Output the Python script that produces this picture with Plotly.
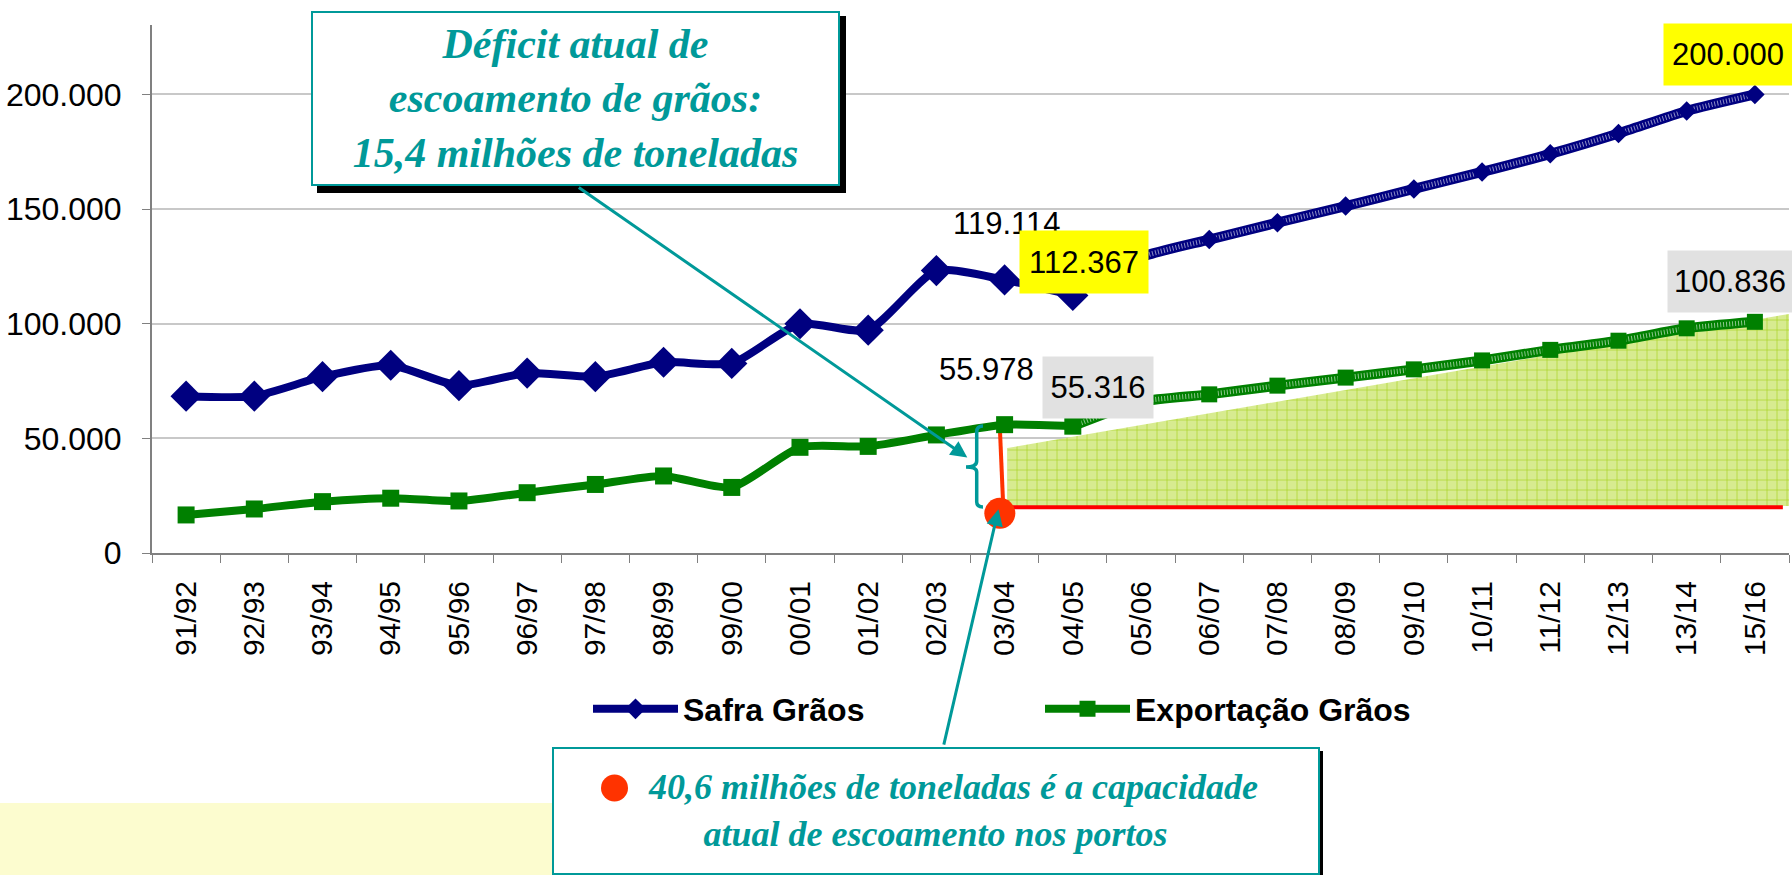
import plotly.graph_objects as go

# ---------------- data ----------------
categories = ["91/92", "92/93", "93/94", "94/95", "95/96", "96/97", "97/98", "98/99",
              "99/00", "00/01", "01/02", "02/03", "03/04", "04/05", "05/06", "06/07",
              "07/08", "08/09", "09/10", "10/11", "11/12", "12/13", "13/14", "15/16"]

safra_hist = [68400, 68400, 76900, 81900, 73000, 78500, 76900, 83200, 82700,
              100000, 97200, 123200, 119114, 112367]
export_hist = [16600, 19200, 22400, 23900, 22700, 26300, 29900, 33600, 28600,
               46100, 46500, 51500, 55978, 55316]
safra_proj = [112367, 129000, 136700, 144100, 151300, 158800, 166200, 174100,
              183000, 192800, 200000]
export_proj = [55316, 66000, 69200, 73000, 76500, 80100, 84000, 88600,
               92600, 98000, 100836]

# deficit zone and port capacity line
gap_x = [12.04, 23.5]
gap_top = [45800, 104300]
gap_bottom = 20500
capacity_x = [11.98, 23.41]
capacity_y = 20000
deficit_x = [11.93, 11.98]
deficit_y = [54800, 20200]
bullet_x = [11.93]
bullet_y = [17300]

ytick_vals = [0, 50000, 100000, 150000, 200000]
ytick_text = ["0", "50.000", "100.000", "150.000", "200.000"]

idx = list(range(len(categories)))
n_hist = len(safra_hist)
proj_idx = idx[n_hist - 1:]

NAVY = "#000080"
GREEN = "#008000"
TEAL = "#009999"
ORANGE_RED = "#FF3300"

fig = go.Figure()

# deficit zone
fig.add_trace(go.Scatter(
    x=[gap_x[0], gap_x[1], gap_x[1], gap_x[0], gap_x[0]],
    y=[gap_top[0], gap_top[1], gap_bottom, gap_bottom, gap_top[0]],
    mode="lines", fill="toself", line=dict(width=0),
    fillcolor="#D7EB90",
    fillpattern=dict(shape="+", size=10, solidity=0.12, fgcolor="#A6D11A",
                     bgcolor="#D7EB90", fillmode="replace"),
    showlegend=False, hoverinfo="skip"))

# capacity line
fig.add_trace(go.Scatter(x=capacity_x, y=[capacity_y, capacity_y], mode="lines",
                         line=dict(color="#FF0000", width=4), showlegend=False, hoverinfo="skip"))
fig.add_trace(go.Scatter(x=deficit_x, y=deficit_y, mode="lines",
                         line=dict(color=ORANGE_RED, width=4), showlegend=False, hoverinfo="skip"))

# projections (hatched look)
for vals, col, sym, sz in [(safra_proj, NAVY, "diamond", 15), (export_proj, GREEN, "square", 16)]:
    fig.add_trace(go.Scatter(
        x=proj_idx, y=vals, mode="lines",
        line=dict(color=col, width=10, shape="spline", smoothing=0.6),
        showlegend=False, hoverinfo="skip"))
    fig.add_trace(go.Scatter(
        x=proj_idx, y=vals, mode="lines",
        line=dict(color="rgba(255,255,255,0.55)", width=5, shape="spline", smoothing=0.6, dash="1px,2px"),
        showlegend=False, hoverinfo="skip"))
    fig.add_trace(go.Scatter(
        x=proj_idx[1:], y=vals[1:], mode="markers",
        marker=dict(symbol=sym, size=sz, color=col),
        showlegend=False, hoverinfo="skip"))

# historical
fig.add_trace(go.Scatter(
    x=idx[:n_hist], y=safra_hist, mode="lines+markers", name="Safra Grãos",
    line=dict(color=NAVY, width=8, shape="spline", smoothing=0.6),
    marker=dict(symbol="diamond", size=24, color=NAVY)))
fig.add_trace(go.Scatter(
    x=idx[:n_hist], y=export_hist, mode="lines+markers", name="Exportação Grãos",
    line=dict(color=GREEN, width=8, shape="spline", smoothing=0.6),
    marker=dict(symbol="square", size=17, color=GREEN)))

# red bullet (capacity point)
fig.add_trace(go.Scatter(x=bullet_x, y=bullet_y, mode="markers",
                         marker=dict(size=31, color=ORANGE_RED), showlegend=False, hoverinfo="skip"))

LABEL_FONT = dict(family="Liberation Sans, Arial", size=31, color="black")

def data_label(xi, yv, text, dx, dy, bg=None, w=None, h=None):
    kw = dict(x=xi, y=yv, xref="x", yref="y", text=text, showarrow=False,
              font=LABEL_FONT, xshift=dx, yshift=dy)
    if bg:
        kw.update(bgcolor=bg, width=w, height=h, borderpad=0)
    fig.add_annotation(**kw)

last = len(categories) - 1
data_label(12, safra_hist[12], "119.114", 2, 56)
data_label(13, safra_hist[13], "112.367", 11, 33, "#FFFF00", 128, 62)
data_label(last, safra_proj[-1], "200.000", -27, 40, "#FFFF00", 128, 61)
data_label(last, export_proj[-1], "100.836", -25, 40, "#E1E1E1", 124, 61)
data_label(12, export_hist[12], "55.978", -18, 55)
data_label(13, export_hist[13], "55.316", 25, 39, "#E1E1E1", 110, 61)

# pixel helpers for paper placement of decorative boxes
L, R, T, B = 152, 3, 25, 322
W, H = 1792, 875
PW, PH = W - L - R, H - T - B
px = lambda x: (x - L) / PW
py = lambda y: (H - B - y) / PH

# top callout: shadow + box
fig.add_shape(type="rect", xref="paper", yref="paper",
              x0=px(317), x1=px(846), y0=py(193), y1=py(16),
              fillcolor="black", line=dict(width=0), layer="above")
fig.add_annotation(xref="paper", yref="paper", x=px(575.5), y=py(98),
                   xanchor="center", yanchor="middle", showarrow=False,
                   text="<b><i>Déficit atual de<br>escoamento de grãos:<br>15,4 milhões de toneladas</i></b>",
                   font=dict(family="Liberation Serif, Times New Roman", size=42, color=TEAL),
                   bgcolor="white", bordercolor=TEAL, borderwidth=2, borderpad=0,
                   width=525, height=171)

# bottom callout: pale-yellow band, shadow, box, red bullet, text
fig.add_shape(type="rect", xref="paper", yref="paper",
              x0=px(0), x1=px(552), y0=py(875), y1=py(803),
              fillcolor="#FCFCCF", line=dict(width=0), layer="below")
fig.add_shape(type="rect", xref="paper", yref="paper",
              x0=px(557), x1=px(1323), y0=py(880), y1=py(751),
              fillcolor="black", line=dict(width=0), layer="above")
fig.add_shape(type="rect", xref="paper", yref="paper",
              x0=px(553), x1=px(1319), y0=py(874), y1=py(748),
              fillcolor="white", line=dict(color=TEAL, width=2), layer="above")
fig.add_shape(type="circle", xref="paper", yref="paper",
              x0=px(601), x1=px(628), y0=py(801.5), y1=py(774.5),
              fillcolor=ORANGE_RED, line=dict(width=0), layer="above")
fig.add_annotation(xref="paper", yref="paper", x=px(935.5), y=py(810),
                   xanchor="center", yanchor="middle", showarrow=False,
                   text="&nbsp;&nbsp;&nbsp;&nbsp;<b><i>40,6 milhões de toneladas é a capacidade<br>atual de escoamento nos portos</i></b>",
                   font=dict(family="Liberation Serif, Times New Roman", size=36, color=TEAL))

# arrows
fig.add_annotation(x=11.453, y=41700, xref="x", yref="y", ax=-390, ay=-271,
                   showarrow=True, arrowhead=2, arrowsize=1.1, arrowwidth=3,
                   arrowcolor=TEAL, text="")
fig.add_annotation(x=11.91, y=19100, xref="x", yref="y", ax=-55, ay=237,
                   showarrow=True, arrowhead=2, arrowsize=1.1, arrowwidth=3,
                   arrowcolor=TEAL, text="")

# brace
fig.add_shape(type="path", xref="x", yref="y",
              path=("M 11.683,55400 Q 11.591,55400 11.591,52800 L 11.591,40100 "
                    "Q 11.591,37500 11.434,37500 Q 11.591,37500 11.591,35300 "
                    "L 11.591,22200 Q 11.591,20100 11.683,20100"),
              line=dict(color=TEAL, width=3.5), layer="above")

fig.update_layout(
    width=W, height=H,
    margin=dict(l=L, r=R, t=T, b=B),
    paper_bgcolor="white", plot_bgcolor="white",
    font=dict(family="Liberation Sans, Arial", color="black"),
    showlegend=True,
    legend=dict(orientation="h", x=px(588), xanchor="left", y=py(709), yanchor="middle",
                font=dict(family="Liberation Sans, Arial", size=32, color="black", weight="bold"),
                itemwidth=85, entrywidth=352, bgcolor="rgba(0,0,0,0)"),
)
fig.update_xaxes(range=[-0.5, len(categories) - 0.5], tickmode="array", tickvals=idx,
                 ticktext=categories, tickangle=-90, ticks="", showgrid=False,
                 tickfont=dict(size=30, color="black"), ticklabelstandoff=14,
                 showline=True, linecolor="#808080", linewidth=2, zeroline=False,
                 minor=dict(tickvals=[i - 0.5 for i in range(len(categories) + 1)],
                            ticks="outside", ticklen=8, tickcolor="#808080", tickwidth=1,
                            showgrid=False))
fig.update_yaxes(range=[0, 230300], tickmode="array", tickvals=ytick_vals, ticktext=ytick_text,
                 ticks="outside", ticklen=8, tickcolor="#808080",
                 tickfont=dict(size=32, color="black"), ticklabelstandoff=14,
                 showgrid=True, gridcolor="#C8C8C8", gridwidth=2,
                 showline=True, linecolor="#808080", linewidth=2, zeroline=False)

fig.write_html("out.html", config={"displayModeBar": False},
               post_script="document.body.style.margin='0';document.body.style.overflow='hidden';")
